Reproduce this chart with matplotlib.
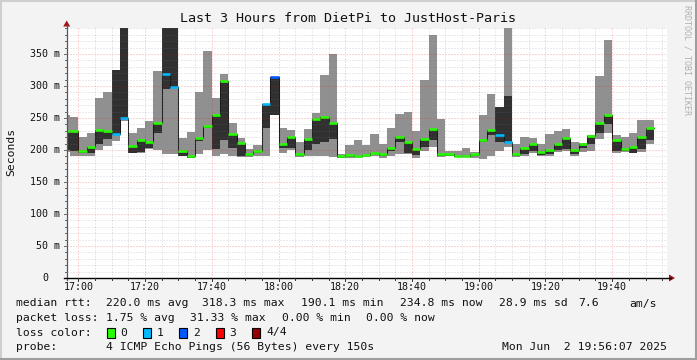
import numpy as np
import matplotlib
matplotlib.use("Agg")
import matplotlib.pyplot as plt
from matplotlib.transforms import Affine2D, blended_transform_factory
from matplotlib.lines import Line2D
from matplotlib.patches import Rectangle, Polygon

# ---------------- data ----------------
title = "Last 3 Hours from DietPi to JustHost-Paris"
start_min = -5.0          # first sample starts 16:55 (minutes relative to 17:00)
step_min = 2.5            # 150 s probe step
# per step: min ping, 2nd ping, 3rd ping, max ping, median, lost pings (of 4)
ping_min = [197, 190, 191, 191, 200, 207, 214, 245, 195, 195, 201, 200, 193, 193, 191, 187,
            194, 200, 191, 193, 191, 189, 189, 190, 191, 254, 195, 200, 189, 190, 190, 190,
            189, 187, 188, 188, 189, 190, 188, 190, 193, 193, 188, 199, 205, 189, 190, 189,
            189, 188, 186, 190, 199, 204, 189, 191, 195, 190, 190, 197, 198, 190, 197, 198,
            217, 226, 195, 197, 195, 197, 209]
ping_q1 = [200, 199, 196, 196, 209, 217, 225, 250, 196, 197, 203, 227, 296, 298, 191, 188,
           214, 234, 202, 216, 203, 190, 190, 196, 235, 254, 203, 203, 191, 200, 210, 212,
           217, 188, 189, 189, 190, 194, 190, 198, 212, 195, 192, 204, 215, 190, 191, 189,
           190, 190, 212, 224, 213, 213, 190, 194, 198, 192, 193, 200, 202, 193, 203, 209,
           226, 241, 199, 198, 195, 202, 216]
ping_q3 = [229, 230, 199, 205, 231, 229, 325, 420, 206, 216, 213, 243, 420, 420, 198, 191,
           219, 237, 254, 308, 225, 211, 193, 199, 272, 314, 210, 221, 194, 218, 248, 252,
           243, 190, 192, 190, 192, 196, 193, 203, 221, 213, 202, 217, 233, 193, 193, 191,
           191, 194, 215, 231, 267, 285, 193, 203, 210, 197, 200, 209, 219, 200, 210, 222,
           242, 254, 215, 202, 204, 221, 235]
ping_max = [255, 252, 220, 227, 281, 291, 325, 420, 227, 234, 246, 324, 420, 420, 219, 228,
            291, 355, 281, 319, 242, 219, 202, 208, 272, 314, 234, 231, 213, 233, 258, 318,
            350, 193, 208, 216, 208, 225, 210, 234, 256, 260, 230, 310, 380, 249, 199, 199,
            203, 197, 254, 287, 267, 392, 210, 220, 219, 209, 225, 229, 233, 212, 211, 224,
            316, 372, 223, 220, 226, 247, 247]
median = [229, 230, 199, 205, 231, 229, 225, 250, 206, 216, 213, 243, 319, 298, 198, 191,
          219, 237, 254, 308, 225, 211, 193, 199, 272, 314, 210, 221, 194, 218, 248, 252,
          243, 190, 192, 190, 192, 196, 193, 203, 221, 213, 202, 217, 233, 193, 193, 191,
          191, 194, 215, 231, 224, 213, 193, 203, 210, 197, 200, 209, 219, 200, 210, 222,
          242, 254, 215, 202, 204, 221, 235]
loss = [0, 0, 0, 0, 0, 0, 1, 1, 0, 0, 0, 0, 1, 1, 0, 0,
        0, 0, 0, 0, 0, 0, 0, 0, 1, 2, 0, 0, 0, 0, 0, 0,
        0, 0, 0, 0, 0, 0, 0, 0, 0, 0, 0, 0, 0, 0, 0, 0,
        0, 0, 0, 0, 1, 1, 0, 0, 0, 0, 0, 0, 0, 0, 0, 0,
        0, 0, 0, 0, 0, 0, 0]
loss_colors = ["#26ff00", "#00b8ff", "#0059ff", "#ff0000", "#990000"]
loss_labels = ["0", "1", "2", "3", "4/4"]
x_tick_pos = [0, 20, 40, 60, 80, 100, 120, 140, 160]
x_tick_labels = ["17:00", "17:20", "17:40", "18:00", "18:20", "18:40", "19:00", "19:20", "19:40"]
y_tick_vals = [0, 50, 100, 150, 200, 250, 300, 350]
y_tick_labels = ["0", "50 m", "100 m", "150 m", "200 m", "250 m", "300 m", "350 m"]

# ---------------- figure ----------------
W, H, DPI = 697, 360, 100
MONO = "DejaVu Sans Mono"
fig = plt.figure(figsize=(W / DPI, H / DPI), dpi=DPI, facecolor="#f3f3f3")
px = Affine2D().scale(1.0 / W, -1.0 / H).translate(0, 1) + fig.transFigure

X0, X1, YB, YT = 66.7, 667.3, 278.0, 27.8
ax = fig.add_axes([X0 / W, 1 - YB / H, (X1 - X0) / W, (YB - YT) / H])
ax.set_facecolor("white")
ax.set_xlim(-3.48, 176.52)
ax.set_ylim(0, 391)
for s in ax.spines.values():
    s.set_visible(False)
ax.set_xticks([])
ax.set_yticks([])

n = len(median)
t = start_min + step_min * np.arange(n)
edges = np.append(t, t[-1] + step_min)


def ext(a):
    a = np.asarray(a, dtype=float)
    return np.append(a, a[-1])


ax.fill_between(edges, ext(ping_min), ext(ping_max), step="post", color="#909090", lw=0, zorder=1)
ax.fill_between(edges, ext(ping_q1), ext(ping_q3), step="post", color="#303030", lw=0, zorder=2)
ax.step(edges, ext(median), where="post", color="#1a1a1a", lw=0.75, zorder=3)
for i in range(n):
    ax.hlines(median[i], t[i], t[i] + step_min, colors=loss_colors[loss[i]], lw=1.9,
              zorder=4, capstyle="butt")

# grid (on top, rrdtool style)
minor_c = (0.5, 0.5, 0.5, 0.32)
major_c = (1.0, 0.0, 0.0, 0.32)
ls = (0, (1, 2))
for v in range(10, 391, 10):
    ax.axhline(v, color=major_c if v % 50 == 0 else minor_c, lw=0.72, ls=ls, zorder=6)
for m in range(0, 180, 5):
    ax.axvline(m, color=major_c if m % 20 == 0 else minor_c, lw=0.72, ls=ls, zorder=6)

# axes lines, ticks and arrows
fig.add_artist(Line2D([X0, X0], [YB + 2, 25], transform=px, color="#555555", lw=0.9))
fig.add_artist(Line2D([X0 - 3, 671], [YB, YB], transform=px, color="#000000", lw=1.0))
fig.add_artist(Polygon([[X0 - 3.5, 26.5], [X0 + 3.5, 26.5], [X0, 20.5]], closed=True,
                       transform=px, color="#a01515", lw=0))
fig.add_artist(Polygon([[669, YB - 3.5], [669, YB + 3.5], [675, YB]], closed=True,
                       transform=px, color="#a01515", lw=0))
ytr = blended_transform_factory(px, ax.transData)
xtr = blended_transform_factory(ax.transData, px)
for v in range(10, 391, 10):
    L = 3 if v % 50 == 0 else 2
    fig.add_artist(Line2D([X0 - L, X0], [v, v], transform=ytr, color="#666666", lw=0.7))
for m in range(0, 180, 5):
    L = 3 if m % 20 == 0 else 2
    fig.add_artist(Line2D([m, m], [YB, YB + L], transform=xtr, color="#333333", lw=0.7))

# tick labels
for v, lab in zip(y_tick_vals, y_tick_labels):
    xr = 60 if v else 48
    fig.text(xr, v, lab, transform=ytr, ha="right", va="center", family=MONO, size=7.2,
             color="#111111")
for m, lab in zip(x_tick_pos, x_tick_labels):
    fig.text(m, 287, lab, transform=xtr, ha="center", va="center", family=MONO, size=7.2,
             color="#111111")

# titles
fig.text(348.5, 19, title, transform=px, ha="center", va="center", family=MONO, size=9.6,
         color="#111111")
fig.text(11, 152, "Seconds", transform=px, ha="center", va="center", rotation=90,
         family=MONO, size=8.2, color="#111111")
fig.text(687.5, 5, "RRDTOOL / TOBI OETIKER", transform=px, ha="center", va="top",
         rotation=270, family=MONO, size=6.0, color="#b0b0b0")

# legend
LS = 8.2
def lt(x, y, s, ha="left"):
    fig.text(x, y, s, transform=px, ha=ha, va="center", family=MONO, size=LS, color="#111111")

y1, y2, y3, y4 = 303.5, 318, 332.5, 347
lt(15.7, y1, "median rtt:")
for xx, s in [(105.5, "220.0 ms avg"), (202, "318.3 ms max"), (301, "190.1 ms min"),
              (400, "234.8 ms now"), (499, "28.9 ms sd"), (578, "7.6"), (629, "am/s")]:
    lt(xx, y1, s)
lt(15.7, y2, "packet loss:")
for xx, s in [(105.5, "1.75 % avg"), (190, "31.33 % max"), (281.5, "0.00 % min"),
              (365.5, "0.00 % now")]:
    lt(xx, y2, s)
lt(15.7, y3, "loss color:")
box_x = [106.5, 143, 179, 215.5, 252]
for bx, c, lab in zip(box_x, loss_colors, loss_labels):
    fig.add_artist(Rectangle((bx, y3 - 5), 8, 10, transform=px, facecolor=c,
                             edgecolor="#000000", lw=0.8))
    lt(bx + 14, y3, lab)
lt(15.7, y4, "probe:")
lt(105.5, y4, "4 ICMP Echo Pings (56 Bytes) every 150s")
lt(667, y4, "Mon Jun  2 19:56:07 2025", ha="right")

# shaded border
fig.add_artist(Line2D([0, W], [0.5, 0.5], transform=px, color="#cfcfcf", lw=1.5))
fig.add_artist(Line2D([0.5, 0.5], [0, H], transform=px, color="#cfcfcf", lw=1.5))
fig.add_artist(Line2D([0, W], [H - 1, H - 1], transform=px, color="#9e9e9e", lw=1.5))
fig.add_artist(Line2D([W - 1, W - 1], [0, H], transform=px, color="#9e9e9e", lw=1.5))

fig.savefig("out.png", dpi=DPI, facecolor=fig.get_facecolor())
